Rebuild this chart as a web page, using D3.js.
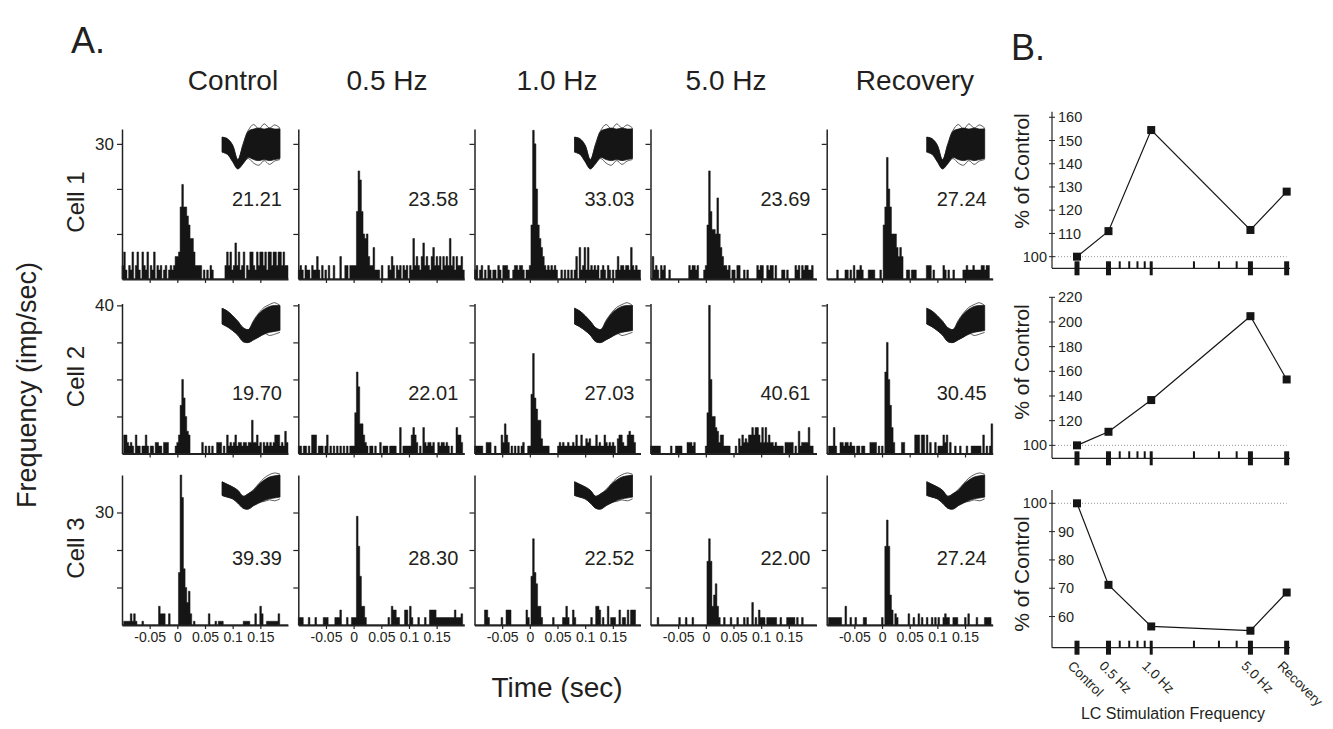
<!DOCTYPE html>
<html>
<head>
<meta charset="utf-8">
<script src="https://cdn.jsdelivr.net/npm/d3@7"></script>
<style>
  body { margin: 0; background: #fff; }
  text { font-family: "Liberation Sans", Arial, sans-serif; fill: #231f20; }
</style>
</head>
<body>
<svg id="fig" width="1333" height="729"></svg>
<script>
// ---------------- data ----------------
var conditions = ["Control", "0.5 Hz", "1.0 Hz", "5.0 Hz", "Recovery"];
var cells = ["Cell 1", "Cell 2", "Cell 3"];
var meanRates = [
  ["21.21", "23.58", "33.03", "23.69", "27.24"],
  ["19.70", "22.01", "27.03", "40.61", "30.45"],
  ["39.39", "28.30", "22.52", "22.00", "27.24"]
];
var timeTicks = [-0.05, 0, 0.05, 0.1, 0.15];
var rateMax = [33.3, 40.5, 40];
var rateTicks = [[10, 20, 30], [10, 20, 30, 40], [10, 20, 30]];
var rateTickLabel = [30, 40, 30];

// PSTH values (imp/sec), 3 ms bins from -0.1 to 0.2 s
var c1Control = [3,6,2,0,3,2,6,0,3,6, 2,0,6,3,2,6,0,3,2,6, 0,3,2,3,0,2,3,0,2,3, 2,3,5,5,6,16,21,16,16,14, 12,9,9,6,3,3,3,3,0,2, 0,2,0,3,2,0,0,0,0,0, 0,0,3,6,3,6,2,3,8,3, 6,2,3,6,0,3,2,6,6,3, 2,6,3,6,6,3,6,2,6,6, 3,6,6,3,6,6,3,6,3,3];
var c1Hz05 = [2,3,2,0,3,2,2,0,3,2, 2,5,2,0,3,0,2,0,3,0, 0,3,0,0,0,5,0,0,3,3, 0,3,3,3,3,15,24,22,15,10, 9,10,5,3,3,7,2,2,2,0, 3,0,0,0,3,2,5,3,0,3, 2,3,0,3,2,3,0,3,2,9, 3,5,3,2,5,8,3,5,3,2, 5,7,3,5,3,5,2,5,3,5, 3,9,3,5,2,5,3,3,5,2];
var c1Hz1 = [2,3,0,2,3,0,2,0,3,2, 0,2,2,0,3,2,0,3,3,3, 2,0,0,2,3,3,2,3,3,2, 0,2,2,3,12,33,30,20,12,9, 7,5,3,2,3,2,3,2,3,2, 0,0,2,0,2,0,2,0,2,0, 2,5,0,7,2,3,7,2,7,2, 3,2,3,2,3,0,2,3,2,0, 3,2,0,2,0,2,5,2,3,3, 2,3,3,2,7,3,2,3,2,2];
var c1Hz5 = [0,5,2,3,2,0,3,2,3,0, 0,2,0,0,0,0,0,0,0,0, 0,0,0,3,2,3,3,2,3,0, 0,0,2,3,12,24,15,11,11,10, 18,10,7,5,3,3,2,3,0,2, 2,0,3,3,0,0,2,0,2,0, 0,0,0,0,3,2,3,3,0,0, 3,2,3,3,0,3,0,0,0,2, 2,0,2,0,0,0,0,3,2,3, 0,3,2,3,3,2,2,3,0,0];
var c1Recovery = [0,0,0,0,0,0,2,0,0,0, 0,2,2,0,2,0,3,0,2,2, 3,2,0,0,0,2,2,2,2,0, 0,0,2,0,12,16,27,20,16,10, 10,10,7,5,7,5,0,0,2,2, 0,2,2,2,0,0,0,0,0,0, 3,3,3,0,2,0,0,0,0,0, 3,2,0,2,0,0,2,0,0,0, 0,0,2,2,3,2,2,2,3,2, 2,2,2,3,3,2,3,3,0,0];

var c2Control = [0,5,5,3,2,3,2,0,5,2, 2,0,2,2,5,2,0,2,2,0, 3,3,2,2,0,3,3,3,0,0, 0,0,2,3,5,13,20,15,10,6, 5,0,0,0,0,0,0,0,3,0, 2,0,2,0,2,0,0,3,3,3, 0,2,0,5,2,3,2,3,5,2, 3,3,2,3,3,2,3,3,9,3, 3,5,2,3,0,3,2,3,2,3, 2,3,5,5,5,2,3,2,6,3];
var c2Hz05 = [2,2,0,2,2,0,2,0,5,5, 5,0,2,2,2,0,2,5,0,2, 0,2,0,2,0,2,0,2,0,2, 0,2,2,2,11,22,18,8,8,5, 3,2,0,2,2,0,2,0,0,3, 0,2,2,2,0,2,2,2,2,0, 0,7,0,2,2,2,2,2,5,7, 5,3,0,2,0,7,3,2,3,3, 2,3,0,0,3,2,3,3,2,3, 2,0,2,0,0,7,5,5,3,0];
var c2Hz1 = [2,2,2,2,2,0,0,3,3,3, 0,0,2,0,0,0,5,3,8,5, 3,0,2,0,2,0,2,0,2,3, 0,0,2,2,16,27,15,12,9,9, 4,2,2,2,2,0,0,0,0,0, 2,3,2,3,2,2,3,2,2,3, 2,5,2,2,5,2,2,4,3,4, 2,2,2,5,2,3,2,2,5,3, 2,3,2,3,2,0,4,5,5,3, 2,2,5,6,5,5,3,0,0,0];
var c2Hz5 = [2,2,2,2,2,2,0,0,0,0, 0,0,2,0,0,2,2,2,2,0, 0,0,3,3,3,2,3,0,0,0, 0,0,0,2,11,40,20,10,10,7, 6,3,5,5,2,2,2,2,0,0, 0,2,0,4,2,5,3,4,3,5, 5,7,5,7,7,5,3,7,3,7, 3,5,3,3,2,3,2,2,2,2, 0,3,3,3,3,3,0,2,0,6, 2,3,3,3,3,7,2,2,0,0];
var c2Recovery = [0,2,2,2,7,2,0,0,3,3, 2,3,3,2,3,2,2,0,2,2, 0,2,2,0,0,0,3,3,3,3, 0,2,0,2,0,22,30,20,13,7, 3,0,0,0,0,3,3,0,0,0, 0,0,0,5,5,5,0,5,5,0, 5,0,3,0,0,3,0,2,2,2, 5,3,5,0,3,0,0,2,0,0, 2,0,0,0,2,0,0,2,2,2, 2,2,2,0,5,0,2,0,2,8];

var c3Control = [0,1,1,1,1,3,1,3,1,0, 0,0,1,0,0,0,0,0,0,0, 0,0,5,3,3,3,0,0,3,0, 0,0,0,0,14,40,34,15,10,6, 9,3,0,1,0,0,0,0,0,0, 0,0,3,0,0,0,1,0,1,1, 1,0,0,0,0,0,0,0,0,0, 0,0,0,1,1,1,1,0,0,0, 3,0,0,5,3,0,0,1,1,1, 1,1,1,1,3,0,0,0,0,0];
var c3Hz05 = [2,2,2,0,0,0,2,0,0,0, 2,0,0,0,0,2,2,2,0,0, 0,0,2,2,2,4,0,0,0,2, 0,0,2,2,2,29,21,13,5,5, 2,0,0,0,0,0,0,0,0,0, 0,0,0,0,2,0,5,4,4,2, 2,0,0,0,4,4,0,5,2,0, 0,0,2,0,0,0,2,0,0,4, 4,4,4,2,2,2,2,2,2,2, 2,2,2,2,4,2,2,2,3,0];
var c3Hz1 = [0,0,0,0,0,0,4,4,2,0, 0,0,0,0,0,0,2,0,0,4, 4,4,0,0,0,0,0,0,0,0, 0,4,2,0,13,23,14,11,5,5, 2,0,0,0,0,0,0,2,0,0, 0,0,0,2,2,5,2,0,0,4, 2,0,0,0,0,0,0,0,0,0, 2,0,0,5,5,4,0,2,0,0, 5,0,2,2,2,0,0,4,0,2, 2,0,4,0,4,4,4,0,0,0];
var c3Hz5 = [0,0,0,0,2,0,0,0,0,0, 0,0,0,0,0,0,0,2,0,0, 0,2,0,0,0,2,0,0,0,0, 0,0,0,0,17,23,17,5,8,11, 5,2,0,0,2,0,0,0,2,0, 0,0,2,0,0,0,2,0,2,0, 0,6,0,2,0,4,2,2,2,0, 2,2,2,2,2,2,0,0,2,0, 0,0,2,2,2,2,2,0,2,0, 0,2,0,0,0,0,0,0,0,0];
var c3Recovery = [0,2,2,2,2,2,2,2,2,0, 0,5,0,0,2,0,0,2,0,0, 0,0,2,2,0,0,0,0,0,0, 0,0,0,2,0,21,28,21,8,4, 0,3,2,0,0,0,0,0,0,3, 0,0,2,0,0,3,0,2,0,0, 2,0,0,2,0,2,0,2,0,0, 2,3,2,2,0,0,2,2,2,0, 0,0,0,2,0,3,0,0,0,0, 2,0,0,0,0,2,2,2,2,0];

var psth = [
  [c1Control, c1Hz05, c1Hz1, c1Hz5, c1Recovery],
  [c2Control, c2Hz05, c2Hz1, c2Hz5, c2Recovery],
  [c3Control, c3Hz05, c3Hz1, c3Hz5, c3Recovery]
];

// spike waveform envelopes and outlying traces (normalised amplitude, 12 samples)
var wave1Hi = [0.52, 0.45, 0.15, -0.55, 0.15, 0.8, 0.9, 0.95, 0.9, 0.95, 0.9, 0.92];
var wave1Lo = [-0.2, -0.3, -0.65, -1.0, -0.75, -0.45, -0.55, -0.6, -0.55, -0.6, -0.55, -0.5];
var wave1TrA = [0.5, 0.4, 0.1, -0.6, 0.2, 0.85, 1.12, 0.9, 1.15, 0.95, 1.1, 0.95];
var wave1TrB = [-0.15, -0.25, -0.6, -0.95, -0.7, -0.5, -0.72, -0.82, -0.6, -0.78, -0.62, -0.55];
var wave2Hi = [0.85, 0.7, 0.45, 0.15, -0.2, -0.3, 0.15, 0.55, 0.8, 0.95, 1.0, 1.0];
var wave2Lo = [0.0, -0.15, -0.35, -0.6, -0.95, -1.0, -0.85, -0.7, -0.55, -0.45, -0.4, -0.35];
var wave2TrA = [0.85, 0.7, 0.45, 0.15, -0.2, -0.3, 0.2, 0.6, 0.9, 1.05, 1.15, 1.0];
var wave2TrB = [0.0, -0.15, -0.35, -0.6, -0.95, -1.0, -0.85, -0.7, -0.5, -0.62, -0.55, -0.45];
var wave3Hi = [0.6, 0.45, 0.3, 0.1, -0.25, -0.1, 0.1, 0.45, 0.7, 0.88, 0.95, 1.0];
var wave3Lo = [-0.2, -0.3, -0.4, -0.65, -0.95, -1.0, -0.8, -0.65, -0.5, -0.4, -0.35, -0.3];
var wave3TrA = [0.6, 0.45, 0.3, 0.1, -0.25, -0.1, 0.15, 0.5, 0.82, 1.02, 1.12, 1.05];
var wave3TrB = [-0.2, -0.3, -0.4, -0.65, -0.95, -1.0, -0.8, -0.6, -0.56, -0.46, -0.52, -0.4];
var waves = [
  [wave1Hi, wave1Lo, wave1TrA, wave1TrB],
  [wave2Hi, wave2Lo, wave2TrA, wave2TrB],
  [wave3Hi, wave3Lo, wave3TrA, wave3TrB]
];
var waveCols = [0, 2, 4];

// panel B
var stimLabels = ["Control", "0.5 Hz", "1.0 Hz", "5.0 Hz", "Recovery"];
var stimPos = [0.3, 0.5, 1, 5, 9];
var minorPos = [0.6, 0.7, 0.8, 0.9, 2, 3, 4];
var pctCell1 = [100, 111, 154.5, 111.5, 128];
var pctCell2 = [100, 111, 136.7, 204.7, 153.4];
var pctCell3 = [100, 71.2, 56.5, 55, 68.5];
var pct = [pctCell1, pctCell2, pctCell3];
var pctDomain = [[95, 162.4], [89.5, 220], [49, 104.7]];
var pctTicks = [[100, 110, 120, 130, 140, 150, 160], [100, 120, 140, 160, 180, 200, 220], [60, 70, 80, 90, 100]];

// ---------------- layout ----------------
var FONT = '"Liberation Sans", Arial, sans-serif';
var svg = d3.select("#fig");
var colLeft = [122, 298.3, 474.5, 650.5, 826.7];
var panelW = 166;
var panelH = 150;
var rowBase = [279, 453.5, 625];
var meanY = [206, 400, 565];
var titleX = [233, 387, 557, 726, 915];
var insetBox = [[-2, 42], [2, 37], [0, 34]];

svg.append("text").attr("x", 71).attr("y", 53).attr("font-size", 36).text("A.");
svg.append("text").attr("x", 1011).attr("y", 60).attr("font-size", 36).text("B.");

conditions.forEach(function(name, c) {
  svg.append("text").attr("x", titleX[c]).attr("y", 90)
     .attr("text-anchor", "middle").attr("font-size", 28).text(name);
});

cells.forEach(function(name, r) {
  svg.append("text")
     .attr("transform", "translate(84," + (rowBase[r] - 77) + ") rotate(-90)")
     .attr("text-anchor", "middle").attr("font-size", 24).text(name);
});

svg.append("text").attr("transform", "translate(36,385) rotate(-90)")
   .attr("text-anchor", "middle").attr("font-size", 27).text("Frequency (imp/sec)");
svg.append("text").attr("x", 557).attr("y", 697)
   .attr("text-anchor", "middle").attr("font-size", 28).text("Time (sec)");

// ---------------- PSTH panels ----------------
psth.forEach(function(rowData, r) {
  var y = d3.scaleLinear().domain([0, rateMax[r]]).range([rowBase[r], rowBase[r] - panelH]);

  rowData.forEach(function(vals, c) {
    var x = d3.scaleLinear().domain([-0.1, 0.2]).range([colLeft[c], colLeft[c] + panelW]);
    var g = svg.append("g");
    var bw = 0.3 / vals.length;
    var pts = vals.map(function(v, i) { return [-0.1 + i * bw, Math.min(v, rateMax[r])]; });
    pts.push([0.2, 0]);

    var area = d3.area().curve(d3.curveStepAfter)
      .x(function(d) { return x(d[0]); })
      .y0(y(0))
      .y1(function(d) { return y(d[1]); });
    g.append("path").attr("d", area(pts)).attr("fill", "#151515")
     .attr("stroke", "#151515").attr("stroke-width", 0.5);

    // y axis
    var ya = g.append("g").attr("transform", "translate(" + colLeft[c] + ",0)")
      .call(d3.axisLeft(y).tickValues(rateTicks[r]).tickSize(5).tickSizeOuter(0)
        .tickFormat(function(d) { return (c === 0 && d === rateTickLabel[r]) ? d : ""; }));
    ya.attr("font-family", FONT).attr("font-size", 17);
    ya.select(".domain").attr("stroke-width", 1.5).attr("stroke", "#222");
    ya.selectAll(".tick line").attr("stroke-width", 1.2).attr("stroke", "#222");
    ya.selectAll(".tick text").attr("fill", "#231f20");

    // x axis
    var xa = g.append("g").attr("transform", "translate(0," + rowBase[r] + ")")
      .call(d3.axisBottom(x).tickValues(timeTicks).tickSize(4).tickSizeOuter(0)
        .tickFormat(function(d) { return r === 2 ? String(d) : ""; }));
    xa.attr("font-family", FONT).attr("font-size", 14);
    xa.select(".domain").attr("stroke-width", 1.8).attr("stroke", "#222");
    xa.selectAll(".tick line").attr("stroke-width", 1.2).attr("stroke", "#222");
    xa.selectAll(".tick text").attr("fill", "#231f20");

    // mean rate
    g.append("text").attr("x", colLeft[c] + 160).attr("y", meanY[r])
     .attr("text-anchor", "end").attr("font-size", 20).text(meanRates[r][c]);

    // spike waveform inset
    if (waveCols.indexOf(c) >= 0) {
      var top = rowBase[r] - panelH + insetBox[r][0];
      var wx = d3.scaleLinear().domain([0, 11]).range([colLeft[c] + 100, colLeft[c] + 158]);
      var wy = d3.scaleLinear().domain([-1, 1]).range([top + insetBox[r][1], top]);
      var hi = waves[r][0], lo = waves[r][1];
      var wav = d3.area().curve(d3.curveCatmullRom)
        .x(function(d, i) { return wx(i); })
        .y0(function(d, i) { return wy(lo[i]); })
        .y1(function(d, i) { return wy(hi[i]); });
      g.append("path").attr("d", wav(hi)).attr("fill", "#151515")
       .attr("stroke", "#151515").attr("stroke-width", 0.8);
      var trace = d3.line().curve(d3.curveCatmullRom)
        .x(function(d, i) { return wx(i); })
        .y(function(d) { return wy(d); });
      [waves[r][2], waves[r][3]].forEach(function(tr) {
        g.append("path").attr("d", trace(tr)).attr("fill", "none")
         .attr("stroke", "#151515").attr("stroke-width", 0.7);
      });
    }
  });
});

// ---------------- panel B ----------------
var xB = d3.scaleLog().domain([0.2, 9.5]).range([1052, 1290]);
var bTop = [111.7, 297.3, 490];
var bBase = [268.3, 458.3, 647.7];
var bLabelY = [171, 362, 574];

pct.forEach(function(vals, k) {
  var yB = d3.scaleLinear().domain(pctDomain[k]).range([bBase[k], bTop[k]]);
  var g = svg.append("g");

  // reference line at 100 %
  g.append("line").attr("x1", xB.range()[0]).attr("x2", xB(9))
   .attr("y1", yB(100)).attr("y2", yB(100))
   .attr("stroke", "#888").attr("stroke-width", 0.9).attr("stroke-dasharray", "1,2");

  // axes lines
  g.append("line").attr("x1", 1052).attr("x2", 1052).attr("y1", bTop[k]).attr("y2", bBase[k])
   .attr("stroke", "#222").attr("stroke-width", 1.2);
  g.append("line").attr("x1", 1052).attr("x2", 1290).attr("y1", bBase[k]).attr("y2", bBase[k])
   .attr("stroke", "#222").attr("stroke-width", 1.2);

  pctTicks[k].forEach(function(t) {
    g.append("line").attr("x1", 1049).attr("x2", 1055).attr("y1", yB(t)).attr("y2", yB(t))
     .attr("stroke", "#222").attr("stroke-width", 1);
    var left = t === 100;
    g.append("text").attr("x", left ? 1047 : 1058).attr("y", yB(t)).attr("dy", "0.35em")
     .attr("text-anchor", left ? "end" : "start").attr("font-size", 14.5).text(t);
  });

  // category ticks and minor log ticks
  stimPos.forEach(function(p) {
    var w = p === 1 ? 3 : 5;
    g.append("rect").attr("x", xB(p) - w / 2).attr("y", bBase[k] - 7)
     .attr("width", w).attr("height", 14).attr("fill", "#151515");
  });
  minorPos.forEach(function(p) {
    g.append("rect").attr("x", xB(p) - 1).attr("y", bBase[k] - 7)
     .attr("width", 2).attr("height", 7).attr("fill", "#151515");
  });

  var line = d3.line()
    .x(function(d, i) { return xB(stimPos[i]); })
    .y(function(d) { return yB(d); });
  g.append("path").attr("d", line(vals)).attr("fill", "none")
   .attr("stroke", "#151515").attr("stroke-width", 1.2);
  g.selectAll("rect.pt").data(vals).enter().append("rect").attr("class", "pt")
   .attr("x", function(d, i) { return xB(stimPos[i]) - 4; })
   .attr("y", function(d) { return yB(d) - 4; })
   .attr("width", 8).attr("height", 8).attr("fill", "#151515");

  g.append("text")
   .attr("transform", "translate(1029," + bLabelY[k] + ") rotate(-90)")
   .attr("text-anchor", "middle").attr("font-size", 21).text("% of Control");
});

// category labels under bottom chart
stimLabels.forEach(function(lab, i) {
  svg.append("text")
     .attr("transform", "translate(" + (xB(stimPos[i]) - 10) + "," + (bBase[2] + 19) + ") rotate(45)")
     .attr("font-size", 13.5).text(lab);
});
svg.append("text").attr("x", 1173).attr("y", 719).attr("text-anchor", "middle")
   .attr("font-size", 16).text("LC Stimulation Frequency");
</script>
</body>
</html>
